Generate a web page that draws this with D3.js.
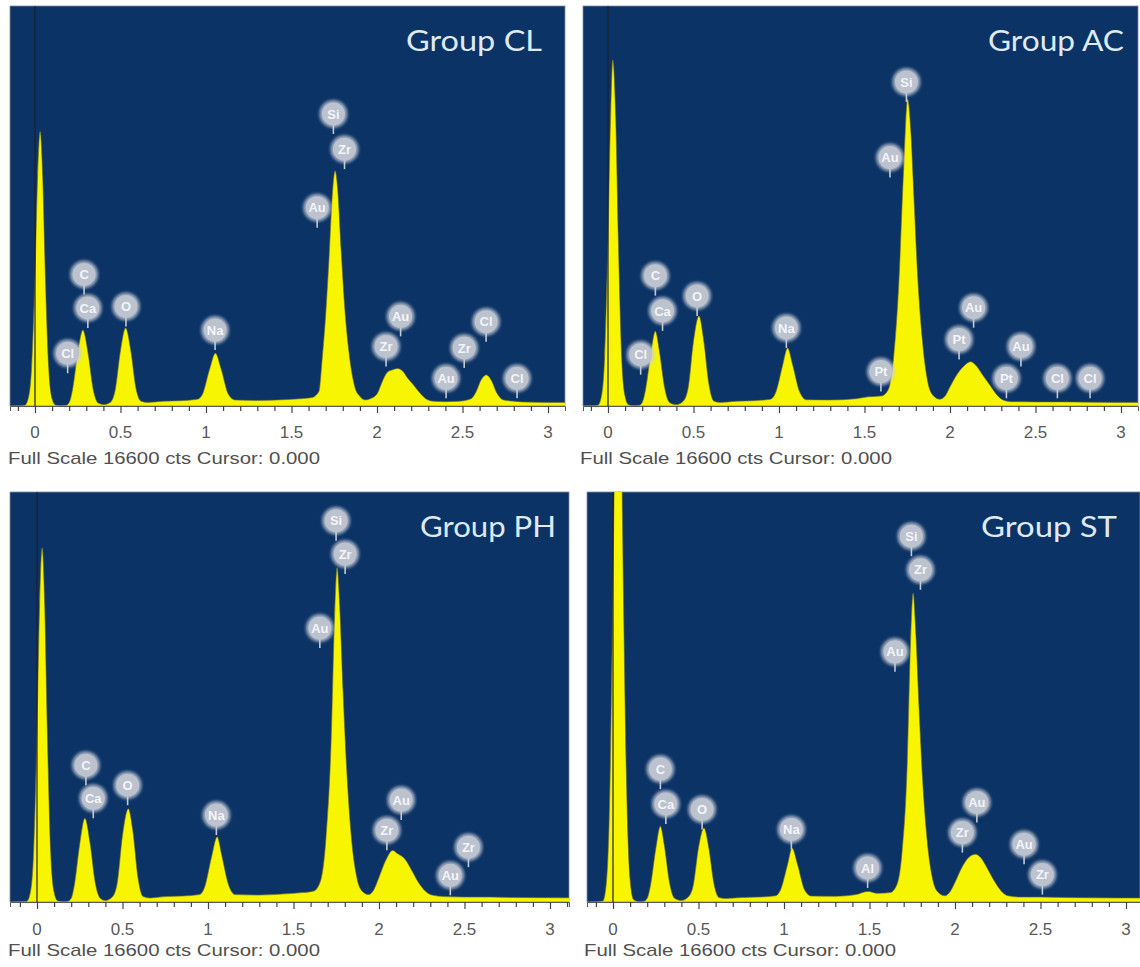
<!DOCTYPE html>
<html>
<head>
<meta charset="utf-8">
<script src="https://cdn.jsdelivr.net/npm/d3@7"></script>
<style>
  body { margin: 0; background: #fff; }
  svg { display: block; }
</style>
</head>
<body>
<svg id="chart" width="1140" height="967"></svg>
<script>
// EDS spectra, energy in keV, intensity in counts (full scale 16600 cts)
const groupNames = ["Group CL", "Group AC", "Group PH", "Group ST"];
const fullScaleText = "Full Scale 16600 cts Cursor: 0.000";
const fullScale = 16600;
const tickValues = [0, 0.5, 1, 1.5, 2, 2.5, 3];
const tickLabels = ["0", "0.5", "1", "1.5", "2", "2.5", "3"];

const spectrumCL = [
  [-0.15, 0], [-0.06, 30], [-0.04, 300], [-0.02, 1600], [0, 5500], [0.015, 9500], [0.03, 11390],
  [0.045, 9500], [0.06, 5500], [0.08, 1600], [0.1, 300], [0.12, 40], [0.15, 20], [0.18, 30],
  [0.2, 150], [0.22, 700], [0.25, 2200], [0.28, 3150], [0.31, 2200], [0.34, 700], [0.37, 120],
  [0.4, 60], [0.44, 150], [0.47, 700], [0.5, 2300], [0.53, 3240], [0.56, 2300], [0.59, 750],
  [0.62, 200], [0.66, 150], [0.75, 200], [0.85, 220], [0.95, 280], [0.98, 500], [1.02, 1500],
  [1.055, 2190], [1.09, 1500], [1.13, 500], [1.17, 250], [1.3, 230], [1.45, 260], [1.55, 300],
  [1.62, 350], [1.66, 600], [1.68, 2000], [1.7, 3800], [1.72, 6200], [1.74, 8900], [1.755, 9760],
  [1.77, 9000], [1.79, 6500], [1.81, 4200], [1.84, 2000], [1.87, 800], [1.9, 400], [1.93, 250],
  [1.96, 300], [2.0, 500], [2.03, 1000], [2.06, 1400], [2.09, 1500], [2.12, 1560], [2.15, 1450],
  [2.18, 1150], [2.21, 900], [2.25, 550], [2.29, 280], [2.33, 200], [2.4, 180], [2.48, 200],
  [2.55, 300], [2.58, 600], [2.61, 1100], [2.64, 1290], [2.67, 1050], [2.7, 550], [2.74, 250],
  [2.8, 200], [2.85, 170], [3.0, 150], [3.12, 150]
];
const spectrumAC = [
  [-0.15, 0], [-0.06, 30], [-0.04, 350], [-0.02, 2000], [0, 7000], [0.015, 12000], [0.028, 14360],
  [0.045, 12000], [0.06, 7000], [0.08, 2000], [0.1, 400], [0.12, 50], [0.15, 20], [0.18, 30],
  [0.2, 150], [0.22, 700], [0.25, 2150], [0.277, 3100], [0.3, 2300], [0.33, 800], [0.36, 150],
  [0.4, 60], [0.44, 200], [0.47, 800], [0.5, 2700], [0.532, 3740], [0.56, 2700], [0.59, 900],
  [0.62, 200], [0.66, 150], [0.75, 200], [0.85, 220], [0.95, 280], [0.98, 550], [1.02, 1650],
  [1.05, 2410], [1.08, 1700], [1.12, 600], [1.16, 260], [1.3, 250], [1.45, 300], [1.52, 380],
  [1.6, 420], [1.64, 700], [1.67, 2000], [1.7, 5000], [1.73, 10000], [1.752, 12750], [1.77, 11500],
  [1.79, 8500], [1.81, 5500], [1.84, 2600], [1.87, 1000], [1.9, 450], [1.94, 280], [1.97, 400],
  [2.0, 800], [2.04, 1300], [2.08, 1650], [2.12, 1840], [2.15, 1700], [2.19, 1300], [2.23, 900],
  [2.27, 500], [2.31, 250], [2.36, 180], [2.5, 170], [2.65, 170], [2.8, 160], [3.12, 150]
];
const spectrumPH = [
  [-0.15, 0], [-0.06, 30], [-0.04, 350], [-0.02, 2000], [0, 7000], [0.015, 12000], [0.03, 14340],
  [0.045, 12000], [0.06, 7000], [0.08, 2000], [0.1, 400], [0.12, 50], [0.15, 20], [0.18, 30],
  [0.2, 150], [0.22, 750], [0.25, 2350], [0.28, 3390], [0.31, 2400], [0.34, 800], [0.37, 150],
  [0.4, 60], [0.44, 200], [0.47, 800], [0.5, 2700], [0.534, 3780], [0.56, 2900], [0.59, 1000],
  [0.62, 220], [0.66, 160], [0.75, 220], [0.85, 240], [0.95, 300], [0.98, 600], [1.02, 1800],
  [1.054, 2640], [1.08, 1900], [1.12, 700], [1.16, 300], [1.3, 280], [1.45, 330], [1.55, 380],
  [1.62, 450], [1.66, 900], [1.69, 2600], [1.72, 6500], [1.74, 11500], [1.755, 13530], [1.77, 12000],
  [1.79, 8500], [1.81, 5500], [1.84, 2500], [1.87, 1000], [1.9, 450], [1.94, 300], [1.97, 500],
  [2.0, 1000], [2.04, 1700], [2.08, 2090], [2.11, 1950], [2.15, 1750], [2.19, 1300], [2.23, 800],
  [2.27, 450], [2.31, 280], [2.38, 220], [2.5, 200], [2.65, 200], [2.8, 180], [3.12, 170]
];
const spectrumST = [
  [-0.15, 0], [-0.06, 40], [-0.04, 700], [-0.02, 4000], [0, 13000], [0.015, 21000], [0.03, 24000],
  [0.045, 21000], [0.06, 13000], [0.08, 4500], [0.1, 900], [0.12, 100], [0.15, 20], [0.18, 30],
  [0.2, 150], [0.22, 700], [0.25, 2150], [0.277, 3070], [0.3, 2300], [0.33, 800], [0.36, 150],
  [0.4, 60], [0.44, 200], [0.47, 700], [0.5, 2200], [0.532, 3000], [0.56, 2200], [0.59, 750],
  [0.62, 180], [0.66, 140], [0.75, 180], [0.85, 200], [0.95, 250], [0.98, 500], [1.02, 1500],
  [1.047, 2190], [1.08, 1500], [1.12, 500], [1.16, 240], [1.3, 230], [1.42, 300], [1.49, 430],
  [1.55, 350], [1.62, 380], [1.66, 700], [1.69, 2000], [1.72, 5500], [1.74, 10500], [1.755, 12500],
  [1.77, 11000], [1.79, 7800], [1.81, 5000], [1.84, 2300], [1.87, 900], [1.9, 400], [1.94, 250],
  [1.97, 400], [2.0, 800], [2.04, 1400], [2.08, 1800], [2.12, 1930], [2.15, 1800], [2.19, 1350],
  [2.23, 850], [2.27, 450], [2.31, 250], [2.38, 200], [2.5, 200], [2.65, 180], [2.8, 170], [3.12, 160]
];

// element markers: [symbol, energy keV, bubble height in counts]
const labelsCL = [
  ["Si", 1.745, 12120], ["Zr", 1.81, 10660], ["Au", 1.65, 8230], ["C", 0.287, 5460],
  ["Ca", 0.309, 4070], ["O", 0.532, 4130], ["Cl", 0.191, 2190], ["Na", 1.053, 3150],
  ["Au", 2.138, 3720], ["Zr", 2.053, 2470], ["Cl", 2.638, 3500], ["Zr", 2.51, 2410],
  ["Au", 2.404, 1150], ["Cl", 2.819, 1150]
];
const labelsAC = [
  ["Si", 1.745, 13450], ["Au", 1.649, 10310], ["C", 0.277, 5410], ["Ca", 0.319, 3950],
  ["O", 0.521, 4570], ["Cl", 0.191, 2130], ["Na", 1.043, 3240], ["Pt", 1.596, 1430],
  ["Au", 2.138, 4080], ["Pt", 2.053, 2760], ["Au", 2.415, 2470], ["Pt", 2.33, 1150],
  ["Cl", 2.628, 1150], ["Cl", 2.819, 1150]
];
const labelsPH = [
  ["Si", 1.749, 15440], ["Zr", 1.802, 14090], ["Au", 1.654, 11090], ["C", 0.286, 5540],
  ["Ca", 0.329, 4200], ["O", 0.53, 4730], ["Na", 1.049, 3520], ["Au", 2.13, 4130],
  ["Zr", 2.046, 2910], ["Zr", 2.523, 2220], ["Au", 2.417, 1080]
];
const labelsST = [
  ["Si", 1.745, 14810], ["Zr", 1.798, 13450], ["Au", 1.649, 10130], ["C", 0.277, 5380],
  ["Ca", 0.309, 3970], ["O", 0.521, 3750], ["Na", 1.043, 2940], ["Al", 1.489, 1380],
  ["Au", 2.128, 4030], ["Zr", 2.043, 2810], ["Au", 2.404, 2340], ["Zr", 2.511, 1110]
];

const spectra = [spectrumCL, spectrumAC, spectrumPH, spectrumST];
const labelSets = [labelsCL, labelsAC, labelsPH, labelsST];

// panel layout in page pixels
const boxes = [
  { x: 10, y: 6, w: 555, h: 400, zero: 25, titleRight: 23, tickDy: 32, fsDy: 58, fsX: 8 },
  { x: 583, y: 6, w: 555, h: 400, zero: 25, titleRight: 14, tickDy: 32, fsDy: 58, fsX: 580 },
  { x: 10, y: 492, w: 559, h: 410, zero: 27, titleRight: 13, tickDy: 33, fsDy: 54, fsX: 8 },
  { x: 587, y: 492, w: 553, h: 410, zero: 26, titleRight: 23, tickDy: 33, fsDy: 54, fsX: 584 }
];
const pxPerKeV = 171;

const svg = d3.select("#chart");
const defs = svg.append("defs");
defs.append("filter").attr("id", "fuzz")
  .attr("x", "-50%").attr("y", "-50%").attr("width", "200%").attr("height", "200%")
  .append("feGaussianBlur").attr("stdDeviation", 1.8);

boxes.forEach((b, i) => {
  const x = d3.scaleLinear()
    .domain([-b.zero / pxPerKeV, (b.w - b.zero) / pxPerKeV])
    .range([0, b.w]);
  const y = d3.scaleLinear().domain([0, fullScale]).range([b.h, 0]);

  const g = svg.append("g").attr("transform", `translate(${b.x},${b.y})`);

  defs.append("clipPath").attr("id", "clip" + i)
    .append("rect").attr("width", b.w).attr("height", b.h);

  g.append("rect")
    .attr("width", b.w).attr("height", b.h)
    .attr("fill", "#0b3365")
    .attr("stroke", "#7f8ea6").attr("stroke-width", 0.8);

  const plot = g.append("g").attr("clip-path", `url(#clip${i})`);

  const area = d3.area()
    .x(d => x(d[0]))
    .y0(y(0))
    .y1(d => y(d[1]))
    .curve(d3.curveMonotoneX);

  plot.append("path")
    .datum(spectra[i])
    .attr("d", area)
    .attr("fill", "#f8f500")
    .attr("stroke", "#6d6a2a")
    .attr("stroke-width", 0.6);

  // cursor line at 0 keV
  plot.append("line")
    .attr("x1", x(0)).attr("x2", x(0))
    .attr("y1", 0).attr("y2", b.h)
    .attr("stroke", "#1b2230").attr("stroke-width", 1.2);

  // element bubbles
  const lab = plot.selectAll("g.lab")
    .data(labelSets[i])
    .enter().append("g")
    .attr("class", "lab")
    .attr("transform", d => `translate(${x(d[1])},${y(d[2])})`);

  lab.append("line")
    .attr("x1", 0).attr("x2", 0).attr("y1", 10).attr("y2", 20)
    .attr("stroke", "#c3c9d4").attr("stroke-width", 1.6);
  lab.append("circle")
    .attr("r", 14)
    .attr("fill", "#c9ced9").attr("opacity", 0.75)
    .attr("filter", "url(#fuzz)");
  lab.append("circle")
    .attr("r", 11.5)
    .attr("fill", "#bcc2ce");
  lab.append("text")
    .attr("text-anchor", "middle")
    .attr("dy", "0.36em")
    .attr("font-family", "Liberation Sans, Arial, sans-serif")
    .attr("font-size", 13)
    .attr("font-weight", "bold")
    .attr("fill", "#f3f5f9")
    .text(d => d[0]);

  // group title
  g.append("text")
    .attr("x", b.w - b.titleRight)
    .attr("y", 45)
    .attr("text-anchor", "end")
    .attr("font-family", "Lato, 'Open Sans', sans-serif")
    .attr("font-size", 28)
    .attr("fill", "#dfe9f3")
    .attr("textLength", 136)
    .attr("lengthAdjust", "spacingAndGlyphs")
    .text(groupNames[i]);

  // energy axis
  const axisG = g.append("g").attr("transform", `translate(0,${b.h})`);
  axisG.call(d3.axisBottom(x).ticks(32).tickSize(5).tickFormat(""));
  axisG.select(".domain").attr("stroke", "#5a5a5a").attr("stroke-width", 1);
  axisG.selectAll(".tick line").attr("stroke", "#444").attr("stroke-width", 1.2);
  axisG.selectAll(".tick")
    .filter(d => tickValues.some(t => Math.abs(t - d) < 1e-6))
    .select("line").attr("y2", 7);

  g.selectAll("text.tickLabel")
    .data(tickValues)
    .enter().append("text")
    .attr("class", "tickLabel")
    .attr("x", d => x(d))
    .attr("y", b.h + b.tickDy)
    .attr("text-anchor", "middle")
    .attr("font-family", "Liberation Sans, Arial, sans-serif")
    .attr("font-size", 17)
    .attr("fill", "#5a5a5a")
    .text((d, k) => tickLabels[k]);

  svg.append("text")
    .attr("x", b.fsX)
    .attr("y", b.y + b.h + b.fsDy)
    .attr("font-family", "Liberation Sans, Arial, sans-serif")
    .attr("font-size", 17)
    .attr("fill", "#505050")
    .attr("textLength", 312)
    .attr("lengthAdjust", "spacingAndGlyphs")
    .text(fullScaleText);
});
</script>
</body>
</html>
